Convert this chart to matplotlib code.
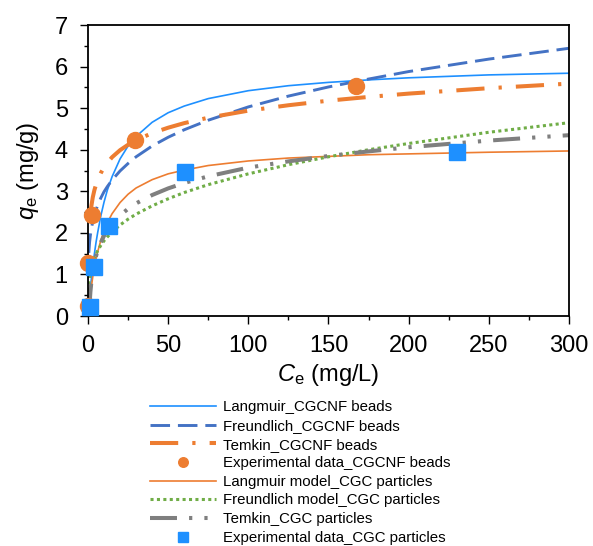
import numpy as np
import matplotlib
matplotlib.use("Agg")
import matplotlib.pyplot as plt

plt.rcParams['font.family'] = ['Liberation Sans', 'DejaVu Sans']
plt.rcParams['mathtext.fontset'] = 'custom'
plt.rcParams['mathtext.rm'] = 'Liberation Sans'
plt.rcParams['mathtext.it'] = 'Liberation Sans:italic'

# Модельні криві (значення)
ce_model = [1, 1.5, 2, 3, 4, 5, 6, 8, 10, 12, 15, 20, 25, 30, 40, 50, 60, 75,
            100, 125, 150, 175, 200, 250, 300]

qe_lang_nf = [0.46, 0.67, 0.86, 1.20, 1.50, 1.77, 2.00, 2.41, 2.74, 3.02, 3.35, 3.78, 4.09,
              4.32, 4.66, 4.89, 5.05, 5.23, 5.42, 5.54, 5.62, 5.68, 5.73, 5.80, 5.84]
qe_freu_nf = [1.78, 1.95, 2.08, 2.28, 2.43, 2.55, 2.66, 2.84, 2.99, 3.11, 3.27, 3.49, 3.67,
              3.83, 4.09, 4.30, 4.48, 4.71, 5.03, 5.29, 5.51, 5.70, 5.88, 6.18, 6.44]
qe_temk_nf = [np.nan, 2.45, 2.62, 2.86, 3.03, 3.16, 3.27, 3.44, 3.58, 3.68, 3.82, 3.99, 4.12,
              4.23, 4.40, 4.53, 4.64, 4.77, 4.94, 5.07, 5.18, 5.27, 5.35, 5.48, 5.59]
qe_lang_p = [0.37, 0.53, 0.68, 0.95, 1.17, 1.37, 1.54, 1.82, 2.05, 2.24, 2.46, 2.73, 2.93,
             3.08, 3.28, 3.42, 3.51, 3.62, 3.73, 3.80, 3.84, 3.88, 3.90, 3.94, 3.97]
qe_freu_p = [0.95, 1.07, 1.15, 1.29, 1.40, 1.49, 1.57, 1.70, 1.81, 1.90, 2.02, 2.19, 2.33,
             2.45, 2.65, 2.82, 2.97, 3.16, 3.42, 3.64, 3.83, 4.00, 4.15, 4.42, 4.65]
qe_temk_p = [0.29, 0.58, 0.78, 1.07, 1.28, 1.44, 1.57, 1.77, 1.93, 2.06, 2.22, 2.42, 2.58,
             2.71, 2.91, 3.07, 3.20, 3.36, 3.57, 3.72, 3.85, 3.96, 4.06, 4.22, 4.35]

# початкові ділянки кривих (до C = 1)
ce_lang_nf0, qe_lang_nf0 = [0, 0.5], [0, 0.24]
ce_freu_nf0, qe_freu_nf0 = [0.5], [1.52]
ce_lang_p0, qe_lang_p0 = [0, 0.5], [0, 0.20]
ce_freu_p0, qe_freu_p0 = [0.2, 0.5], [0.61, 0.79]
ce_temk_p0, qe_temk_p0 = [0.8], [0.13]

# Експериментальні дані
ce_exp_nf = [0, 0.2, 2.3, 29.5, 167]
qe_exp_nf = [0.24, 1.27, 2.43, 4.23, 5.53]
ce_exp_p = [1.2, 3.7, 13.3, 60.5, 230]
qe_exp_p = [0.22, 1.19, 2.16, 3.47, 3.95]

c_light = '#1E90FF'
c_dark = '#4472C4'
c_orange = '#ED7D31'
c_green = '#70AD47'
c_gray = '#7F7F7F'

fig = plt.figure(figsize=(5.93, 5.46), dpi=100)
ax = fig.add_axes([0.1484, 0.4212, 0.8111, 0.5330])

ax.plot(ce_lang_nf0 + ce_model, qe_lang_nf0 + qe_lang_nf, color=c_light, lw=1.2,
        label='Langmuir_CGCNF beads')
ax.plot(ce_freu_nf0 + ce_model, qe_freu_nf0 + qe_freu_nf, color=c_dark, lw=2.1,
        linestyle=(0, (6.7, 2.7)), label='Freundlich_CGCNF beads')
ax.plot(ce_model, qe_temk_nf, color=c_orange, lw=2.9, linestyle=(0, (7, 3.5, 0.8, 3.5)),
        label='Temkin_CGCNF beads')
ax.plot(ce_exp_nf, qe_exp_nf, 'o', color=c_orange, ms=11.5, clip_on=False, zorder=5,
        label='Experimental data_CGCNF beads')
ax.plot(ce_lang_p0 + ce_model, qe_lang_p0 + qe_lang_p, color=c_orange, lw=1.2,
        label='Langmuir model_CGC particles')
ax.plot(ce_freu_p0 + ce_model, qe_freu_p0 + qe_freu_p, color=c_green, lw=2.2,
        linestyle=(0, (1, 1.1)), label='Freundlich model_CGC particles')
ax.plot(ce_temk_p0 + ce_model, qe_temk_p0 + qe_temk_p, color=c_gray, lw=2.9,
        linestyle=(0, (6.7, 3, 0.8, 3, 0.8, 3)), label='Temkin_CGC particles')
ax.plot(ce_exp_p, qe_exp_p, 's', color=c_light, ms=11, clip_on=False, zorder=6,
        label='Experimental data_CGC particles')

ax.set_xlim(0, 300)
ax.set_ylim(0, 7)
ax.set_xticks(np.arange(0, 301, 50))
ax.set_xticks(np.arange(0, 301, 25), minor=True)
ax.set_yticks(np.arange(0, 8, 1))
ax.set_yticks(np.arange(0, 7.01, 0.5), minor=True)
ax.tick_params(which='major', direction='out', length=5.5, width=1, labelsize=17)
ax.tick_params(axis='y', which='major', pad=9)
ax.tick_params(axis='x', which='major', pad=8)
ax.tick_params(which='minor', direction='out', length=3, width=1)
for s in ax.spines.values():
    s.set_linewidth(1.3)

ax.set_xlabel(r'$C_\mathrm{e}$ (mg/L)', fontsize=17, labelpad=4)
ax.set_ylabel(r'$q_\mathrm{e}$ (mg/g)', fontsize=17, labelpad=10)

fig.legend(loc='upper left', bbox_to_anchor=(0.253, 0.267), frameon=False, fontsize=10.8,
           handlelength=4.4, handletextpad=0.47, labelspacing=0.31, markerscale=0.6,
           borderpad=0, borderaxespad=0)

fig.savefig('out.png', dpi=100)
